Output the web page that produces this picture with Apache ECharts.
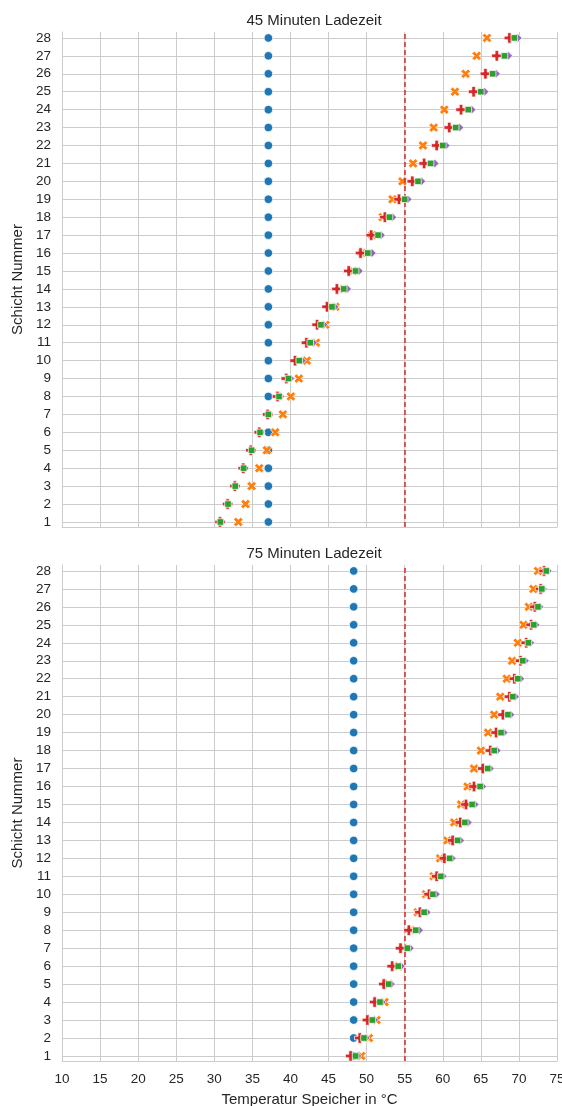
<!DOCTYPE html>
<html>
<head>
<meta charset="utf-8">
<script src="https://cdn.jsdelivr.net/npm/echarts@6/dist/echarts.min.js"></script>
<style>
  html, body { margin: 0; padding: 0; background: #ffffff; overflow: hidden; }
  #chart { width: 562px; height: 1106px; }
</style>
</head>
<body>
<div id="chart"></div>
<script>
// Layer numbers (y positions)
const layers = [1,2,3,4,5,6,7,8,9,10,11,12,13,14,15,16,17,18,19,20,21,22,23,24,25,26,27,28];
const limitTemp = 55;

// 45 minutes charging time
const start45  = [37.1,37.1,37.1,37.1,37.1,37.1,37.1,37.1,37.1,37.1,37.1,37.1,37.1,37.1,37.1,37.1,37.1,37.1,37.1,37.1,37.1,37.1,37.1,37.1,37.1,37.1,37.1,37.1];
const seriesX45 = [33.15,34.1,34.9,35.9,36.9,38.0,39.0,40.05,41.1,42.15,43.35,44.6,45.9,47.0,48.2,49.4,50.75,52.1,53.4,54.7,56.1,57.4,58.8,60.2,61.6,63.0,64.45,65.8];
const seriesP45 = [30.75,31.75,32.7,33.8,34.8,35.9,37.0,38.3,39.45,40.6,42.1,43.5,44.8,46.1,47.65,49.2,50.6,52.4,54.25,56.0,57.55,59.2,60.85,62.4,64.05,65.6,67.1,68.75];
const seriesS45 = [30.8,31.8,32.75,33.85,34.9,36.0,37.1,38.5,39.75,41.15,42.6,44.0,45.45,47.0,48.55,50.15,51.5,53.0,55.0,56.75,58.4,60.0,61.7,63.35,65.0,66.55,68.1,69.4];
const seriesD45 = [30.9,31.9,32.85,33.95,35.0,36.1,37.2,38.7,40.0,41.5,42.95,44.35,45.8,47.45,49.0,50.7,51.9,53.4,55.4,57.2,58.95,60.4,62.2,63.8,65.5,67.0,68.6,69.85];

// 75 minutes charging time
const start75  = [48.3,48.3,48.3,48.3,48.3,48.3,48.3,48.3,48.3,48.3,48.3,48.3,48.3,48.3,48.3,48.3,48.3,48.3,48.3,48.3,48.3,48.3,48.3,48.3,48.3,48.3,48.3,48.3];
const seriesX75 = [49.3,50.3,51.3,52.35,52.9,54.2,54.8,55.8,56.7,57.8,58.8,59.65,60.6,61.5,62.4,63.25,64.1,65.0,65.95,66.75,67.55,68.4,69.1,69.85,70.6,71.3,71.9,72.5];
const seriesP75 = [47.9,49.1,50.1,51.05,52.25,53.35,54.45,55.55,57.0,58.2,59.2,60.2,61.3,62.3,63.05,64.1,65.25,66.25,67.0,67.9,68.75,69.4,70.2,70.95,71.6,72.1,72.85,73.3];
const seriesS75 = [48.55,49.65,50.75,51.75,52.9,54.15,55.35,56.45,57.55,58.7,59.75,60.9,61.95,62.9,63.85,64.9,65.9,66.75,67.65,68.55,69.2,69.85,70.5,71.25,71.95,72.5,73.0,73.6];
const seriesD75 = [48.8,49.9,51.0,52.0,53.2,54.5,55.7,56.9,57.9,59.1,60.0,61.2,62.3,63.3,64.2,65.2,66.2,67.1,68.0,68.9,69.5,70.2,70.8,71.5,72.2,72.7,73.2,73.8];

const FONT = 'Liberation Sans, Arial, sans-serif';
const TEXT = '#262626';
const GRID_COLOR = '#cccccc';

const COLORS = { blue: '#1f77b4', orange: '#ff7f0e', green: '#2ca02c', red: '#d62728', purple: '#9467bd' };
const X_PATH = 'path://M-1,-2 L0,-1 L1,-2 L2,-1 L1,0 L2,1 L1,2 L0,1 L-1,2 L-2,1 L-1,0 L-2,-1 Z';
const P_PATH = 'path://M-1,-3 L1,-3 L1,-1 L3,-1 L3,1 L1,1 L1,3 L-1,3 L-1,1 L-3,1 L-3,-1 L-1,-1 Z';

function pairs(values) {
  return values.map((v, i) => [v, layers[i]]);
}

function scatter(name, values, idx, symbol, size, color, z) {
  return {
    name: name,
    type: 'scatter',
    xAxisIndex: idx,
    yAxisIndex: idx,
    data: pairs(values),
    symbol: symbol,
    symbolSize: size,
    z: z,
    itemStyle: { color: color, borderColor: '#ffffff', borderWidth: 0.7, opacity: 1 },
    emphasis: { disabled: true },
    silent: true
  };
}

function limitLine(idx) {
  return {
    type: 'line',
    xAxisIndex: idx,
    yAxisIndex: idx,
    data: [],
    silent: true,
    z: 6,
    markLine: {
      symbol: 'none',
      silent: true,
      label: { show: false },
      lineStyle: { color: COLORS.red, type: [5, 3], width: 1.5 },
      data: [{ xAxis: limitTemp }]
    }
  };
}

function panelSeries(idx, s, x, d, p, q) {
  return [
    scatter('Startwert', s, idx, 'circle', 8.5, COLORS.blue, 2),
    scatter('Messung', x, idx, X_PATH, 9.5, COLORS.orange, 3),
    scatter('Modell D', q, idx, 'diamond', 8.5, COLORS.purple, 4),
    scatter('Modell P', p, idx, P_PATH, 10.5, COLORS.red, 5),
    scatter('Modell S', d, idx, 'rect', 6.5, COLORS.green, 6),
    limitLine(idx)
  ];
}

function xAxis(idx, showLabels) {
  return {
    type: 'value',
    gridIndex: idx,
    min: 10,
    max: 75,
    interval: 5,
    axisLine: { show: true, lineStyle: { color: GRID_COLOR, width: 1 } },
    axisTick: { show: false },
    axisLabel: { show: showLabels, color: TEXT, fontFamily: FONT, fontSize: 13.5, margin: 11 },
    splitLine: { show: true, lineStyle: { color: GRID_COLOR, width: 1 } },
    name: showLabels ? 'Temperatur Speicher in °C' : '',
    nameLocation: 'middle',
    nameGap: 31,
    nameTextStyle: { color: TEXT, fontFamily: FONT, fontSize: 15 }
  };
}

function yAxis(idx) {
  return {
    type: 'value',
    gridIndex: idx,
    min: 0.72,
    max: 28.33,
    axisLine: { show: true, lineStyle: { color: GRID_COLOR, width: 1 } },
    axisTick: { show: false, customValues: layers },
    axisLabel: { color: TEXT, fontFamily: FONT, fontSize: 13.5, margin: 11, customValues: layers },
    splitLine: { show: true, lineStyle: { color: GRID_COLOR, width: 1 } },
    name: 'Schicht Nummer',
    nameLocation: 'middle',
    nameGap: 36,
    nameTextStyle: { color: TEXT, fontFamily: FONT, fontSize: 15 }
  };
}

const chart = echarts.init(document.getElementById('chart'), null, { renderer: 'canvas' });
chart.setOption({
  backgroundColor: '#ffffff',
  animation: false,
  title: [
    { text: '45 Minuten Ladezeit', left: 309, top: 8, textAlign: 'center',
      textStyle: { color: TEXT, fontFamily: FONT, fontSize: 15, fontWeight: 'normal' } },
    { text: '75 Minuten Ladezeit', left: 309, top: 541, textAlign: 'center',
      textStyle: { color: TEXT, fontFamily: FONT, fontSize: 15, fontWeight: 'normal' } }
  ],
  grid: [
    { left: 62, right: 5, top: 32, height: 495, outerBoundsMode: 'none', containLabel: false },
    { left: 62, right: 5, top: 565, height: 496, outerBoundsMode: 'none', containLabel: false }
  ],
  xAxis: [xAxis(0, false), xAxis(1, true)],
  yAxis: [yAxis(0), yAxis(1)],
  series: [].concat(
    panelSeries(0, start45, seriesX45, seriesS45, seriesP45, seriesD45),
    panelSeries(1, start75, seriesX75, seriesS75, seriesP75, seriesD75)
  )
});
</script>
</body>
</html>
